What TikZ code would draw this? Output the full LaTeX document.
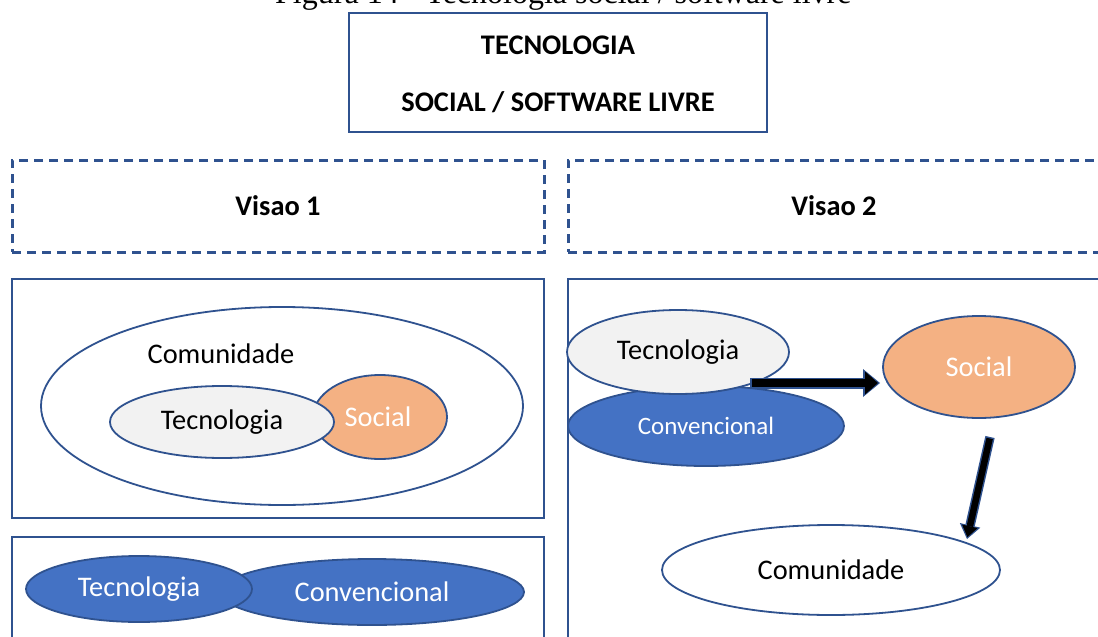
\documentclass[tikz,border=0pt]{standalone}
\usepackage{fontspec}
\setmainfont{Carlito}
\newfontfamily\capfont{Liberation Serif}
\usetikzlibrary{shapes.geometric,arrows.meta}
\definecolor{outl}{HTML}{2F528F}
\definecolor{bluef}{HTML}{4472C4}
\definecolor{orangef}{HTML}{F4B183}
\definecolor{grayf}{HTML}{F2F2F2}
\begin{document}
\begin{tikzpicture}[x=1pt,y=-1pt,
  box/.style={draw=outl, line width=2.2pt, inner sep=0pt},
  dbox/.style={draw=outl, line width=3pt, dash pattern=on 9pt off 6pt, inner sep=0pt},
  ell/.style={ellipse, draw=outl, line width=1.8pt, inner sep=0pt},
  txt/.style={font=\fontsize{28.4}{33}\selectfont},
  btxt/.style={font=\fontsize{28.4}{33}\selectfont\bfseries},
  arrout/.style={line width=#1, draw=outl},
  arrin/.style={line width=#1, draw=black, shorten <=1.5pt},
]
\useasboundingbox (0,0) rectangle (1098,637);
\clip (0,0) rectangle (1098,637);

% caption (cut off at the top edge, as in the reference)
\node[anchor=base west, font=\capfont\fontsize{32}{38}\selectfont, inner sep=0pt] (cap) at (275,4) {Figura 14 - Tecnologia social / software livre};

% title
\node[box, minimum width=418pt, minimum height=119pt] (title) at (558,72.5) {};
\node[btxt] (title1) at (558,45) {TECNOLOGIA};
\node[btxt] (title2) at (558,102) {SOCIAL / SOFTWARE LIVRE};

% vision headers
\node[dbox, minimum width=532pt, minimum height=92pt, btxt] (v1) at (278,206) {Visao 1};
\node[dbox, minimum width=532pt, minimum height=92pt, btxt] (v2) at (834,206) {Visao 2};

% frames
\node[box, minimum width=532pt, minimum height=239pt] (fl1) at (278,398.5) {};
\node[box, minimum width=532pt, minimum height=123pt] (fl2) at (278,598.5) {};
\node[box, minimum width=532pt, minimum height=381pt] (fr) at (834,469.5) {};

% vision 1, top
\node[ell, fill=white, minimum width=482pt, minimum height=198pt] (comL) at (282,406) {};
\node[txt] (comLtxt) at (221,354) {Comunidade};
\node[ell, fill=orangef, minimum width=134pt, minimum height=84pt, txt, text=white] (socL) at (380,417) {\hspace*{-4pt}Social};
\node[ell, fill=grayf, minimum width=224pt, minimum height=72pt, txt] (tecL) at (222,422) {Tecnologia};

% vision 1, bottom
\node[ell, fill=bluef, minimum width=304pt, minimum height=66pt, txt, text=white] (convB) at (372,592) {Convencional};
\node[ell, fill=bluef, minimum width=226pt, minimum height=66pt, txt, text=white] (tecB) at (139,589) {Tecnologia};

% vision 2
\node[ell, fill=bluef, minimum width=276pt, minimum height=80pt, font=\fontsize{25}{30}\selectfont, text=white] (convR) at (706,426) {Convencional};
\node[ell, fill=grayf, minimum width=222pt, minimum height=84pt, txt] (tecR) at (678,352) {Tecnologia};
\node[ell, fill=orangef, minimum width=192pt, minimum height=102pt, txt, text=white] (socR) at (979,367) {Social};
\node[ell, fill=white, minimum width=338pt, minimum height=90pt, txt] (comR) at (831,570) {Comunidade};

% arrows
\coordinate (a1s) at (750,383);
\coordinate (a1e) at (880,383);
\coordinate (a2s) at (990,437);
\coordinate (a2e) at (967,539);
\draw[arrout=11pt, -{Triangle[length=17pt,width=28pt,line width=0pt]}] (a1s) -- (a1e);
\draw[arrin=8pt, shorten >=2pt, -{Triangle[length=13pt,width=23pt,line width=0pt]}] (a1s) -- (a1e);
\draw[arrout=9.5pt, -{Triangle[length=14pt,width=21pt,line width=0pt]}] (a2s) -- (a2e);
\draw[arrin=6.5pt, shorten >=2pt, -{Triangle[length=11pt,width=16pt,line width=0pt]}] (a2s) -- (a2e);
\end{tikzpicture}
\end{document}
